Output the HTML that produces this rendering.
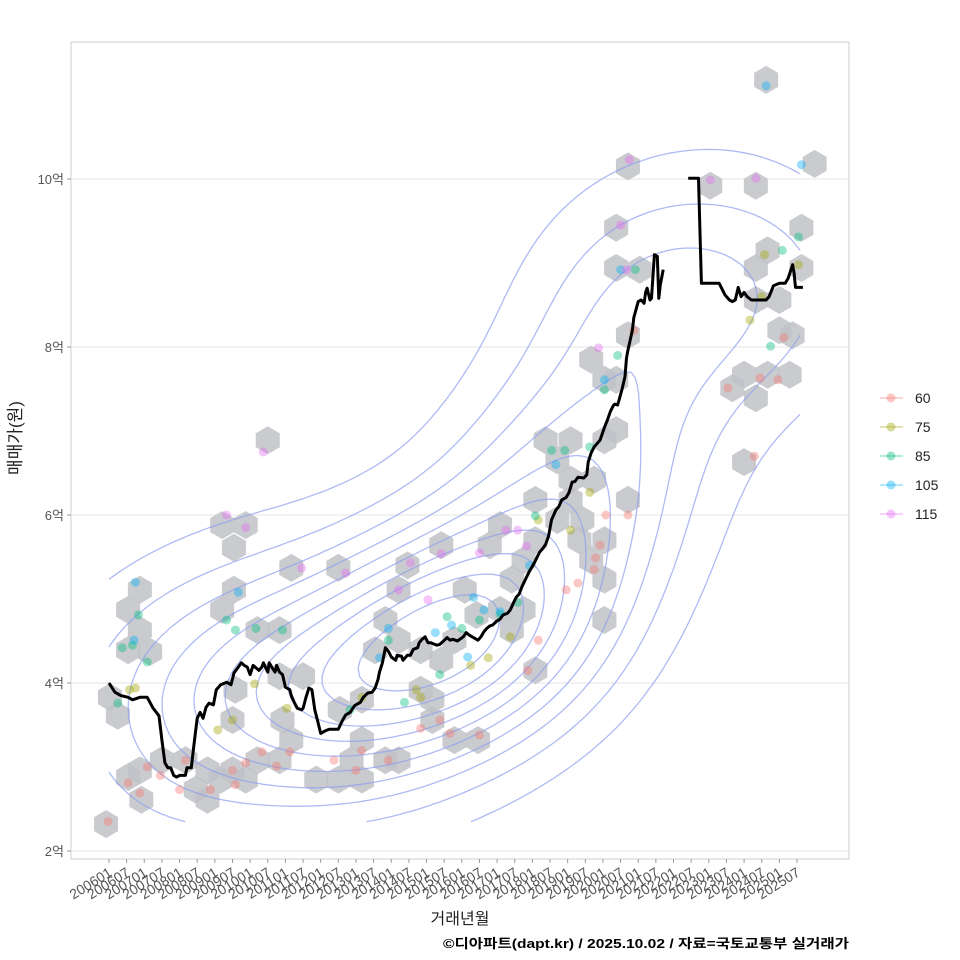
<!DOCTYPE html>
<html><head><meta charset="utf-8"><style>
body{margin:0;background:#fff;}
svg{display:block;font-family:"Liberation Sans","Noto Sans CJK KR",sans-serif;}
</style></head><body>
<svg id="chart" width="960" height="960" viewBox="0 0 960 960">
<rect x="0" y="0" width="960" height="960" fill="#fff"/>
<g id="grid"></g>
<g id="hexes"></g>
<g id="contours"></g>
<g id="points"></g>
<g id="line"></g>
<rect x="71" y="42" width="778" height="817" fill="none" stroke="#cfcfcf" stroke-width="1"/>
<g id="yaxis"></g>
<g id="xaxis"></g>
<text x="460" y="924" text-anchor="middle" font-size="16" fill="#222">거래년월</text>
<text x="0" y="0" transform="translate(21,438) rotate(-90)" text-anchor="middle" font-size="17" fill="#222">매매가(원)</text>
<text x="443" y="948" font-size="13" font-weight="bold" fill="#000" textLength="406" lengthAdjust="spacingAndGlyphs">©디아파트(dapt.kr) / 2025.10.02 / 자료=국토교통부 실거래가</text>
<g id="legend"></g>
</svg>
<script>
// ---- data ----
const sizeCats = ["60","75","85","105","115"];
const sizeColors = ["#F8766D","#A3A500","#00BF7D","#00B0F6","#E76BF3"];
const yTicks = [2,4,6,8,10];
const yTickLabels = ["2억","4억","6억","8억","10억"];
const xTickMonths = [];
const xTickLabels = [];
for(let y=2006;y<=2025;y++){for(const mm of [1,7]){xTickMonths.push((y-2006)*12+(mm-1));xTickLabels.push(y+(mm===1?"01":"07"));}}
// median line: month index since 2006-01, value in 억 (null = gap)
const lineMonths = [0,2,4,6.5,8,10.5,13,15,17,18,19,20,21,22,23,24,26,26.5,28,29,30,31,32,33,34,35.5,36.5,38,40,41.5,42.5,44,45,46,47,48,49,50,51,52,52.5,54,54.5,55.5,56.5,57,58,59,60,61.5,62,63,64,65.5,66,67,68,69,70,71,72,73.5,75,77,78,79.5,80.5,82,83.5,85.5,86.5,88,89.5,90.5,91.5,92,93,94,95,96,97.5,98,99.5,100,101.5,102.5,103.5,105,105.5,106.5,107.5,108.5,109.5,111.5,112.5,113.5,115,116,117,118.5,120.5,121.5,122.5,123.5,125.5,126.5,127.5,128.5,129.5,130.5,132,133,134,135.5,136.5,137.5,138.5,139.5,140.5,142,143,144.5,145.5,146.5,147.5,148.5,149.5,150.5,152,153,154,155.5,156.5,157.5,158.5,159.5,161.5,162.5,163,164,165,167,168.5,169.5,170.5,171.5,172,173,173.5,174.5,175.5,176,176.5,177,178,178.5,180,181,182,182.5,183,184,184.5,185.5,186.5,187,187.5,188.5,192,197,200.5,201.5,205,207.5,209.5,211,212,213,214,215,216,217,218.5,220,223.5,224.5,226,228,230,231,232.5,233,233.5,236];
const lineValues = [4.00,3.89,3.85,3.83,3.80,3.83,3.83,3.70,3.61,3.32,3.05,2.99,2.99,2.90,2.88,2.90,2.90,2.99,2.99,3.30,3.58,3.65,3.58,3.71,3.76,3.74,3.92,3.98,4.01,3.98,4.12,4.19,4.24,4.21,4.19,4.10,4.21,4.18,4.15,4.19,4.24,4.13,4.24,4.18,4.13,4.21,4.13,4.10,3.95,3.92,3.85,3.77,3.70,3.68,3.70,3.83,3.94,3.92,3.68,3.54,3.40,3.43,3.45,3.45,3.45,3.56,3.62,3.65,3.73,3.77,3.83,3.88,3.89,3.94,4.04,4.13,4.24,4.42,4.38,4.31,4.27,4.33,4.32,4.27,4.33,4.33,4.40,4.42,4.48,4.52,4.55,4.48,4.48,4.45,4.46,4.49,4.54,4.51,4.52,4.50,4.55,4.60,4.57,4.55,4.51,4.55,4.61,4.65,4.68,4.69,4.74,4.76,4.81,4.83,4.87,4.95,5.02,5.06,5.15,5.26,5.33,5.42,5.49,5.56,5.60,5.65,5.75,5.94,6.06,6.10,6.18,6.21,6.27,6.39,6.40,6.45,6.44,6.48,6.63,6.74,6.81,6.89,7.04,7.13,7.23,7.30,7.32,7.31,7.37,7.50,7.65,7.87,7.96,8.04,8.20,8.35,8.54,8.56,8.52,8.65,8.70,8.56,8.58,9.10,9.08,8.58,8.74,8.92,null,10.01,10.01,8.76,8.76,8.76,8.62,8.56,8.54,8.56,8.71,8.60,8.65,8.60,8.56,8.56,8.56,8.60,8.73,8.76,8.76,8.82,8.98,8.88,8.71,8.71];
// monthly transaction volume estimate (relative weight per line point, for density)
const volumeCenter = [122, 4.75];
// hexbin centres
const hexMonths = [-1,0.3,3,6.5,10.5,11,10.5,6.5,6.5,10.5,14,18,26,29.5,33.5,33.5,38,42,46.5,50.5,58,62,59,42,43,38.5,46.5,42.5,42.5,38.5,50.5,58,54,62,58,66,78,70.5,78,82.5,86,86,86,78.5,94,98.5,90.5,98.5,94,98.5,101.5,106,110,106,113,117.5,110,117.5,125.5,113,121,129.5,133,125,133,137,141,137,141,145,145,145,148.5,152.5,157,152.5,157,157,161,160,164,168.5,168.5,168.5,176.5,165,168.5,164,168.5,172.5,176.5,172.5,172.5,176.5,180.5,172.5,212,216,216,220,224,231.5,220,204.5,220,220,228,224,228,232.5,235.5,235.5,240,223.5];
const hexValues = [2.32,3.83,3.61,2.88,2.96,2.61,5.11,4.87,4.39,4.63,4.37,3.08,3.08,2.73,2.61,2.96,2.85,2.96,2.85,3.08,3.08,3.32,3.56,3.56,3.92,5.88,5.88,5.61,5.11,4.87,4.63,4.63,6.89,5.37,4.08,4.08,5.37,2.85,2.85,3.08,2.85,3.32,3.80,3.68,3.08,3.08,4.39,4.51,4.75,5.11,5.40,3.92,3.80,4.39,4.27,4.51,3.56,3.32,3.32,5.64,5.11,5.64,5.88,4.81,4.87,4.63,4.87,5.23,5.46,5.70,4.15,6.18,6.89,6.65,6.89,5.94,6.18,6.42,5.94,5.70,5.46,5.70,5.23,4.75,6.18,6.42,6.89,7.85,7.61,7.61,8.14,9.42,8.94,10.15,8.92,7.01,7.51,6.63,7.67,7.39,7.67,7.67,9.92,9.92,8.94,8.56,8.56,9.15,8.20,8.14,9.42,8.94,10.18,11.18];
// points: month, value, size category index
const ptMonths = [-0.3,6.5,10.5,13,17.5,24,26,34.5,42,43,46.5,52,57,61.5,76.5,84,86,95,106,112.5,116,126,142.5,146,155.5,159.5,165,165.5,167,169,176.5,178.5,210.5,219.5,221.5,227.5,229.5,
 7,9,37,42,49.5,60.5,86,104.5,106,123,129,136.5,146,157,163.5,218,222,223,234.5,
 3,4.5,8,10,13,40,43,50,59,82,95,100.5,112.5,115,120,126,133,139,145,150.5,155,163.5,168.5,173,179,225,229,234.5,
 9,8.5,44,92,95,111,116.5,122,124,127.5,133,143,152,168.5,174,223.5,235.5,
 40,46.5,52.5,65.5,80.5,98.5,102.5,108.5,113,126,135,139,142,166.5,174,176,177,204.5,220];
const ptValues = [2.35,2.81,2.69,3.0,2.9,2.73,3.08,2.73,2.96,2.79,3.05,3.18,3.01,3.18,3.08,2.96,3.20,3.08,3.46,3.56,3.40,3.38,4.15,4.51,5.11,5.19,5.35,5.49,5.64,6.0,6.0,8.20,7.51,6.70,7.63,7.61,8.11,
 3.92,3.94,3.44,3.56,3.99,3.70,3.83,3.92,3.83,4.21,4.30,4.55,5.94,5.82,6.27,8.32,8.60,9.10,8.98,
 3.76,4.42,4.45,4.81,4.25,4.75,4.63,4.65,4.63,3.68,4.51,3.77,4.10,4.79,4.65,4.75,4.82,4.96,5.99,6.77,6.77,6.81,7.49,7.90,8.92,8.01,9.15,9.31,
 5.20,4.51,5.08,4.30,4.65,4.60,4.69,4.31,5.02,4.87,4.85,5.40,6.60,7.61,8.92,11.11,10.17,
 6.0,5.85,6.75,5.37,5.31,5.11,5.43,4.99,5.54,5.55,5.82,5.82,5.63,7.99,9.45,8.92,10.23,9.99,10.01];
const ptCats = [0,0,0,0,0,0,0,0,0,0,0,0,0,0,0,0,0,0,0,0,0,0,0,0,0,0,0,0,0,0,0,0,0,0,0,0,0,
 1,1,1,1,1,1,1,1,1,1,1,1,1,1,1,1,1,1,1,
 2,2,2,2,2,2,2,2,2,2,2,2,2,2,2,2,2,2,2,2,2,2,2,2,2,2,2,2,
 3,3,3,3,3,3,3,3,3,3,3,3,3,3,3,3,3,
 4,4,4,4,4,4,4,4,4,4,4,4,4,4,4,4,4,4,4];

// ---- scales ----
const NS="http://www.w3.org/2000/svg";
function xS(m){return 109 + m*(688/234);}
function yS(v){return 851 - (v-2)*84;}
function mk(tag,attrs,parent){const e=document.createElementNS(NS,tag);for(const k in attrs)e.setAttribute(k,attrs[k]);parent.appendChild(e);return e;}

const grid=document.getElementById('grid'), yax=document.getElementById('yaxis'), xax=document.getElementById('xaxis');
yTicks.forEach((v,i)=>{
  const g=mk('line',{x1:71,x2:849,y1:yS(v),y2:yS(v),stroke:'#e6e6e6','stroke-width':1},grid);
  
  
  const t=mk('line',{x1:67,x2:71,y1:yS(v),y2:yS(v),stroke:'#999'},yax);
  
  
  const l=mk('text',{x:64,y:yS(v)+5,'text-anchor':'end','font-size':13,fill:'#555'},yax);
  l.textContent=yTickLabels[i];
  
  
});
xTickMonths.forEach((m,i)=>{
  const x=xS(m);
  const t=mk('line',{x1:x,x2:x,y1:859,y2:863,stroke:'#999'},xax);
  
  
  const l=mk('text',{x:0,y:0,'text-anchor':'end','font-size':14,fill:'#555',transform:`translate(${x+4},${875}) rotate(-32)`},xax);
  l.textContent=xTickLabels[i];
  
  
});

// hexes
const hexG=document.getElementById('hexes');
hexMonths.forEach((m,i)=>{
  const cx=xS(m), cy=yS(hexValues[i]), w=12, h=14;
  const pts=[[cx,cy-h],[cx+w,cy-h/2],[cx+w,cy+h/2],[cx,cy+h],[cx-w,cy+h/2],[cx-w,cy-h/2]].map(p=>p.join(',')).join(' ');
  const p=mk('polygon',{points:pts,fill:'#bfc2c7','fill-opacity':0.85},hexG);
  
  
});

// KDE contours
const cg=document.getElementById('contours');
(function(){
  const m0=0,m1=235,v0=2.35,v1=11.0,NX=90,NY=90,hm=28,hv=0.85;
  const D=[];let mx=0;
  for(let j=0;j<=NY;j++){D[j]=[];for(let i=0;i<=NX;i++){
    const m=m0+(m1-m0)*i/NX, v=v0+(v1-v0)*j/NY;let s=0;
    for(let k=0;k<ptMonths.length;k++){const a=(m-ptMonths[k])/hm,b=(v-ptValues[k])/hv;s+=Math.exp(-0.5*(a*a+b*b));}
    for(let k=0;k<lineMonths.length;k++){if(lineValues[k]==null)continue;const a=(m-lineMonths[k])/hm,b=(v-lineValues[k])/hv;
      const ca=(lineMonths[k]-volumeCenter[0])/45;const w=0.6+2.2*Math.exp(-0.5*ca*ca);
      s+=w*Math.exp(-0.5*(a*a+b*b));}
    D[j][i]=s;if(s>mx)mx=s;}}
  const levels=[0.08,0.17,0.26,0.35,0.44,0.53,0.62,0.71,0.8,0.89];
  let d='';
  const P=(i,j)=>[xS(m0+(m1-m0)*i/NX),yS(v0+(v1-v0)*j/NY)];
  levels.forEach(f=>{
    const L=f*mx;
    for(let j=0;j<NY;j++)for(let i=0;i<NX;i++){
      const a=D[j][i],b=D[j][i+1],c=D[j+1][i+1],e=D[j+1][i];
      const idx=(a>L?1:0)|(b>L?2:0)|(c>L?4:0)|(e>L?8:0);
      if(idx===0||idx===15)continue;
      const edge=k=>{let p,q,va,vb;
        if(k===0){p=P(i,j);q=P(i+1,j);va=a;vb=b;}
        else if(k===1){p=P(i+1,j);q=P(i+1,j+1);va=b;vb=c;}
        else if(k===2){p=P(i+1,j+1);q=P(i,j+1);va=c;vb=e;}
        else {p=P(i,j+1);q=P(i,j);va=e;vb=a;}
        const t=(L-va)/(vb-va);return [p[0]+(q[0]-p[0])*t,p[1]+(q[1]-p[1])*t];};
      const T={1:[[3,0]],2:[[0,1]],3:[[3,1]],4:[[1,2]],5:[[3,0],[1,2]],6:[[0,2]],7:[[3,2]],8:[[2,3]],9:[[0,2]],10:[[0,1],[2,3]],11:[[1,2]],12:[[1,3]],13:[[0,1]],14:[[0,3]]}[idx];
      T.forEach(s=>{const p=edge(s[0]),q=edge(s[1]);d+=`M${p[0].toFixed(1)},${p[1].toFixed(1)}L${q[0].toFixed(1)},${q[1].toFixed(1)}`;});
    }
  });
  const path=mk('path',{d:d,fill:'none',stroke:'#8c9cf0','stroke-opacity':0.7,'stroke-width':1.3},cg);
  
  
})();

// points
const pg=document.getElementById('points');
ptMonths.forEach((m,i)=>{
  const c=mk('circle',{cx:xS(m),cy:yS(ptValues[i]),r:4.5,fill:sizeColors[ptCats[i]],'fill-opacity':0.4},pg);
  
  
});

// median line
const lg=document.getElementById('line');
let d='',pen=false;
lineMonths.forEach((m,i)=>{const v=lineValues[i];if(v==null){pen=false;return;}d+=(pen?'L':'M')+xS(m).toFixed(1)+','+yS(v).toFixed(1);pen=true;});
const ln=mk('path',{d:d,fill:'none',stroke:'#000','stroke-width':3,'stroke-linejoin':'round'},lg);



// legend
const leg=document.getElementById('legend');
sizeCats.forEach((s,i)=>{
  const y=398+i*29;
  const g=mk('g',{},leg);
  
  
  mk('line',{x1:880,x2:903,y1:y,y2:y,stroke:sizeColors[i],'stroke-opacity':0.4,'stroke-width':1.5},g);
  mk('circle',{cx:891,cy:y,r:4.5,fill:sizeColors[i],'fill-opacity':0.4},g);
  const t=mk('text',{x:915,y:y+5,'font-size':14,fill:'#222'},g);
  t.textContent=s;
});
</script>
</body></html>
